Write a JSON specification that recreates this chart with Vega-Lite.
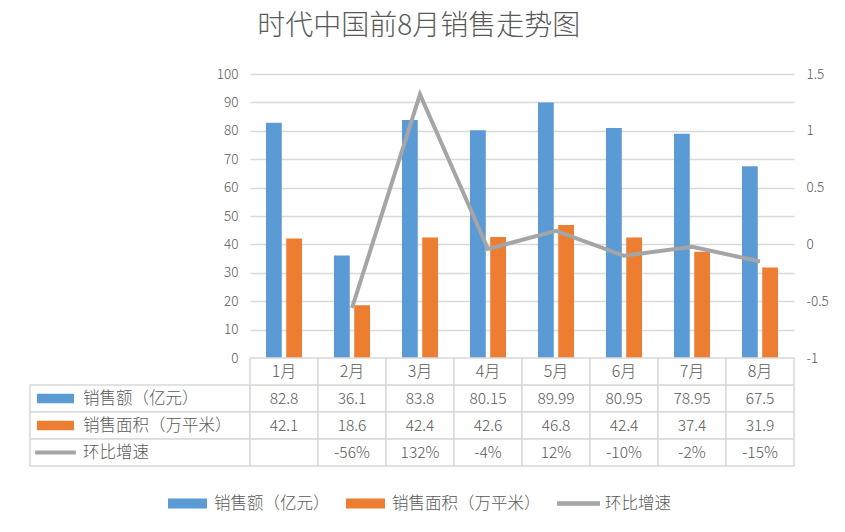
{
  "$schema": "https://vega.github.io/schema/vega-lite/v6.json",
  "background": "white",
  "autosize": {"type": "pad"},
  "padding": {"left": 29, "top": 13, "right": 10, "bottom": 5},
  "config": {
    "font": "Noto Sans CJK SC",
    "view": {"stroke": null},
    "locale": {"number": {"decimal": ".", "thousands": ",", "grouping": [3], "currency": ["", ""], "minus": "-"}},
    "axis": {"labelColor": "#595959", "labelFont": "Noto Sans CJK SC", "labelFontWeight": 300},
    "text": {"font": "Noto Sans CJK SC", "color": "#595959", "fontWeight": 300},
    "legend": {"labelFontWeight": 300, "labelFont": "Noto Sans CJK SC"}
  },
  "title": {"text": "时代中国前8月销售走势图", "fontSize": 28, "fontWeight": 300, "color": "#595959", "anchor": "middle", "frame": "bounds", "offset": 26, "dx": -10},
  "datasets": {
    "sales": [
      {"month": "1月", "series": "销售额（亿元）", "value": 82.8},
      {"month": "2月", "series": "销售额（亿元）", "value": 36.1},
      {"month": "3月", "series": "销售额（亿元）", "value": 83.8},
      {"month": "4月", "series": "销售额（亿元）", "value": 80.15},
      {"month": "5月", "series": "销售额（亿元）", "value": 89.99},
      {"month": "6月", "series": "销售额（亿元）", "value": 80.95},
      {"month": "7月", "series": "销售额（亿元）", "value": 78.95},
      {"month": "8月", "series": "销售额（亿元）", "value": 67.5},
      {"month": "1月", "series": "销售面积（万平米）", "value": 42.1},
      {"month": "2月", "series": "销售面积（万平米）", "value": 18.6},
      {"month": "3月", "series": "销售面积（万平米）", "value": 42.4},
      {"month": "4月", "series": "销售面积（万平米）", "value": 42.6},
      {"month": "5月", "series": "销售面积（万平米）", "value": 46.8},
      {"month": "6月", "series": "销售面积（万平米）", "value": 42.4},
      {"month": "7月", "series": "销售面积（万平米）", "value": 37.4},
      {"month": "8月", "series": "销售面积（万平米）", "value": 31.9},
      {"month": "1月", "series": "环比增速", "value": null},
      {"month": "2月", "series": "环比增速", "value": -0.56},
      {"month": "3月", "series": "环比增速", "value": 1.32},
      {"month": "4月", "series": "环比增速", "value": -0.04},
      {"month": "5月", "series": "环比增速", "value": 0.12},
      {"month": "6月", "series": "环比增速", "value": -0.10},
      {"month": "7月", "series": "环比增速", "value": -0.02},
      {"month": "8月", "series": "环比增速", "value": -0.15}
    ]
  },
  "data": {"name": "sales"},
  "columns": 2,
  "spacing": 0,
  "bounds": "flush",
  "align": "each",
  "resolve": {"scale": {"x": "independent", "y": "independent", "color": "shared", "fill": "shared", "stroke": "shared", "shape": "shared"}},
  "concat": [
    {
      "width": 220,
      "height": 284,
      "mark": {"type": "text"},
      "encoding": {"text": {"value": ""}}
    },
    {
      "width": 544,
      "height": 284,
      "layer": [
        {
          "mark": {"type": "point", "filled": true, "opacity": 0},
          "encoding": {
            "color": {"field": "series", "type": "nominal",
                      "scale": {"domain": ["销售额（亿元）", "销售面积（万平米）", "环比增速"], "range": ["#5B9BD5", "#ED7D31", "#A5A5A5"]},
                      "legend": {"title": null, "orient": "none", "direction": "horizontal", "legendX": 138, "legendY": 410, "symbolSize": 1521, "symbolOpacity": 1, "labelFontSize": 16.5, "labelColor": "#595959", "labelOffset": 7, "columnPadding": 16, "symbolStrokeWidth": 0, "padding": 0}},
            "shape": {"field": "series", "type": "nominal",
                      "scale": {"domain": ["销售额（亿元）", "销售面积（万平米）", "环比增速"], "range": ["M-1,-0.26H1V0.26H-1Z", "M-1,-0.26H1V0.26H-1Z", "M-1.1,-0.11H1.1V0.11H-1.1Z"]},
                      "legend": {"title": null, "orient": "none", "direction": "horizontal", "legendX": 138, "legendY": 410, "symbolSize": 1521, "symbolOpacity": 1, "labelFontSize": 16.5, "labelColor": "#595959", "labelOffset": 7, "columnPadding": 16, "symbolStrokeWidth": 0, "padding": 0}}
          }
        },
        {
          "transform": [{"filter": "datum.series !== '环比增速'"}],
          "mark": {"type": "bar"},
          "encoding": {
            "x": {"field": "month", "type": "nominal", "sort": null, "scale": {"paddingInner": 0.47, "paddingOuter": 0.235}, "axis": null},
            "xOffset": {"field": "series", "type": "nominal", "scale": {"domain": ["销售额（亿元）", "销售面积（万平米）"], "paddingInner": 0.22}},
            "y": {"field": "value", "type": "quantitative", "scale": {"domain": [0, 100], "nice": false},
                  "axis": {"values": [0, 10, 20, 30, 40, 50, 60, 70, 80, 90, 100], "title": null, "grid": true, "gridColor": "#d9d9d9", "gridWidth": 1.5, "domain": false, "ticks": false, "labelPadding": 12, "labelFontSize": 13.5}},
            "fill": {"field": "series", "type": "nominal", "scale": {"domain": ["销售额（亿元）", "销售面积（万平米）", "环比增速"], "range": ["#5B9BD5", "#ED7D31", "#A5A5A5"]}, "legend": null}
          }
        },
        {
          "transform": [{"filter": "datum.series === '环比增速' && datum.value != null"}],
          "mark": {"type": "line", "strokeWidth": 4},
          "encoding": {
            "x": {"field": "month", "type": "nominal", "sort": null, "axis": null},
            "y": {"field": "value", "type": "quantitative", "scale": {"domain": [-1, 1.5], "nice": false},
                  "axis": {"orient": "right", "values": [-1, -0.5, 0, 0.5, 1, 1.5], "format": "~g", "title": null, "grid": false, "domain": false, "ticks": false, "labelPadding": 12, "labelFontSize": 13.5}},
            "stroke": {"field": "series", "type": "nominal", "scale": {"domain": ["销售额（亿元）", "销售面积（万平米）", "环比增速"], "range": ["#5B9BD5", "#ED7D31", "#A5A5A5"]}, "legend": null}
          }
        }
      ],
      "resolve": {"scale": {"y": "independent"}}
    },
    {
      "width": 220,
      "height": 108,
      "transform": [{"filter": "datum.month === '1月'"}],
      "layer": [
        {
          "mark": {"type": "rect", "fill": "white", "stroke": "#d9d9d9", "strokeWidth": 1.5},
          "encoding": {
            "y": {"field": "series", "type": "nominal", "scale": {"domain": ["月份", "销售额（亿元）", "销售面积（万平米）", "环比增速"], "paddingInner": 0, "paddingOuter": 0}, "axis": null}
          }
        },
        {
          "mark": {"type": "point", "filled": true, "opacity": 1, "size": 1369, "xOffset": -84.5},
          "encoding": {
            "y": {"field": "series", "type": "nominal", "axis": null},
            "fill": {"field": "series", "type": "nominal", "legend": null},
            "shape": {"field": "series", "type": "nominal",
                      "legend": {"title": null, "orient": "none", "direction": "horizontal", "legendX": 138, "legendY": 410, "symbolSize": 1521, "symbolOpacity": 1, "labelFontSize": 16.5, "labelColor": "#595959", "labelOffset": 7, "columnPadding": 16, "symbolStrokeWidth": 0, "padding": 0}}
          }
        },
        {
          "mark": {"type": "text", "align": "left", "dx": -57, "fontSize": 16.5},
          "encoding": {
            "y": {"field": "series", "type": "nominal", "axis": null},
            "text": {"field": "series", "type": "nominal"}
          }
        }
      ]
    },
    {
      "width": 544,
      "height": 108,
      "layer": [
        {
          "mark": {"type": "rect", "fill": "white", "stroke": "#d9d9d9", "strokeWidth": 1.5},
          "encoding": {
            "x": {"field": "month", "type": "nominal", "sort": null, "scale": {"paddingInner": 0, "paddingOuter": 0}, "axis": null},
            "y": {"field": "series", "type": "nominal", "scale": {"domain": ["月份", "销售额（亿元）", "销售面积（万平米）", "环比增速"], "paddingInner": 0, "paddingOuter": 0}, "axis": null}
          }
        },
        {
          "transform": [{"filter": "datum.series === '销售额（亿元）'"}],
          "mark": {"type": "rect", "fill": "white", "stroke": "#d9d9d9", "strokeWidth": 1.5},
          "encoding": {
            "x": {"field": "month", "type": "nominal", "sort": null, "axis": null},
            "y": {"datum": "月份", "type": "nominal", "axis": null}
          }
        },
        {
          "transform": [{"filter": "datum.series === '销售额（亿元）'"}],
          "mark": {"type": "text", "fontSize": 16},
          "encoding": {
            "x": {"field": "month", "type": "nominal", "sort": null, "axis": null},
            "y": {"datum": "月份", "type": "nominal", "axis": null},
            "text": {"field": "month", "type": "nominal"}
          }
        },
        {
          "transform": [{"filter": "datum.series !== '环比增速'"}],
          "mark": {"type": "text", "fontSize": 15.5},
          "encoding": {
            "x": {"field": "month", "type": "nominal", "sort": null, "axis": null},
            "y": {"field": "series", "type": "nominal", "axis": null},
            "text": {"field": "value", "type": "nominal"}
          }
        },
        {
          "transform": [{"filter": "datum.series === '环比增速' && datum.value != null"}],
          "mark": {"type": "text", "fontSize": 15.5},
          "encoding": {
            "x": {"field": "month", "type": "nominal", "sort": null, "axis": null},
            "y": {"field": "series", "type": "nominal", "axis": null},
            "text": {"field": "value", "type": "quantitative", "format": ".0%"}
          }
        }
      ]
    }
  ]
}
